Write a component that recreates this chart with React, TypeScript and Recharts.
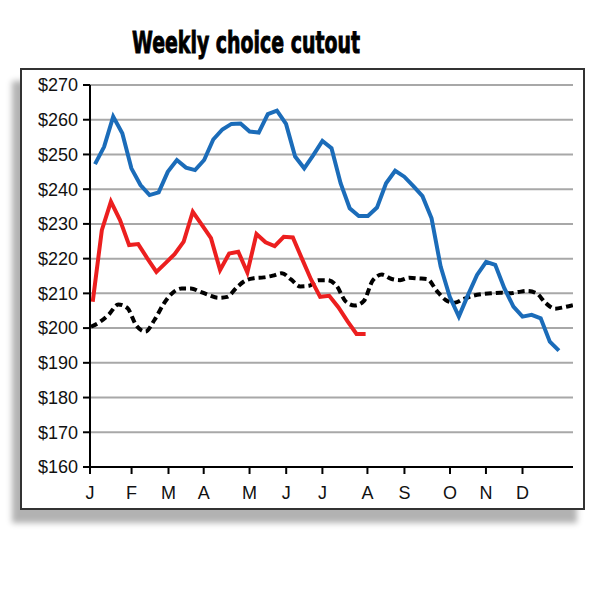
import { CartesianGrid, Line, LineChart, XAxis, YAxis } from "recharts";

const months = ["J", "F", "M", "A", "M", "J", "J", "A", "S", "O", "N", "D"];
const monthWeeks = [0, 4.57, 8.63, 12.5, 17.54, 21.57, 25.55, 30.5, 34.57, 39.58, 43.53, 47.55];
const priceTicks = [160, 170, 180, 190, 200, 210, 220, 230, 240, 250, 260, 270];

// weekly values, first week offset in weeks from Jan 1
const blueStart = 0.55;
const blueYear = [
  247.2, 252.2, 260.9, 256.1, 246.0, 241.2, 238.3, 239.1, 245.0, 248.4, 246.2, 245.5, 248.4,
  254.3, 257.2, 258.8, 258.9, 256.6, 256.3, 261.6, 262.6, 258.8, 249.4, 246.0, 249.8, 253.9,
  251.8, 241.7, 234.5, 232.3, 232.3, 234.7, 241.7, 245.3, 243.6, 240.9, 238.0, 231.6, 217.7,
  209.0, 203.3, 209.5, 215.3, 219.1, 218.2, 211.5, 206.2, 203.3, 203.8, 202.8, 196.1, 193.5,
];

const redStart = 0.3;
const redYear = [
  207.6, 228.2, 236.4, 231.1, 223.9, 224.2, 220.1, 216.2, 218.7, 221.3, 224.9, 233.5, 229.7,
  225.9, 216.7, 221.5, 222.0, 216.0, 227.1, 224.7, 223.6, 226.3, 226.1, 220.0, 214.0, 209.0,
  209.3, 206.0, 202.0, 198.3, 198.3,
];

const avgStart = 0.1;
const fiveYearAvg = [
  200.4, 201.8, 204.0, 206.8, 205.8, 200.7, 199.0, 202.4, 207.0, 210.2, 211.4, 211.4, 210.5,
  209.5, 208.7, 209.0, 211.6, 213.7, 214.4, 214.6, 215.1, 215.8, 214.0, 212.0, 212.2, 213.8,
  213.8, 212.2, 207.7, 206.5, 207.8, 213.8, 215.4, 214.2, 213.8, 214.5, 214.3, 214.1, 210.8,
  208.1, 207.3, 208.4, 209.3, 209.8, 210.0, 210.2, 210.0, 210.4, 210.7, 210.0, 207.2, 205.6,
  206.0, 206.6,
];

const toPoints = (values: number[], start: number) =>
  values.map((price, i) => ({ week: start + i, price }));

const axisFont = { fontFamily: "'Liberation Sans', Arial, sans-serif", fontSize: 18, fill: "#111" };

export default function App() {
  return (
    <div style={{ position: "absolute", left: 0, top: 0, width: 610, height: 602, background: "#fff" }}>
      <svg width={610} height={70} style={{ position: "absolute", left: 0, top: 0 }}>
        <text
          x={132}
          y={53}
          textLength={228}
          lengthAdjust="spacingAndGlyphs"
          fontFamily="'DejaVu Sans Condensed', 'Liberation Sans Narrow', 'DejaVu Sans', sans-serif"
          fontWeight="bold"
          fontSize={30}
          fill="#000"
          stroke="#000"
          strokeWidth={0.9}
        >
          Weekly choice cutout
        </text>
      </svg>
      <div
        style={{
          position: "absolute",
          left: 20,
          top: 68,
          width: 561,
          height: 438,
          border: "2px solid #333",
          background: "#fff",
          boxShadow: "-8px 13px 6px rgba(0,0,0,0.3)",
        }}
      />
      <div style={{ position: "absolute", left: 0, top: 0 }}>
        <LineChart width={610} height={602} margin={{ top: 85, right: 37, bottom: 95, left: 0 }}>
          <CartesianGrid horizontal vertical={false} stroke="#a8a8a8" strokeWidth={2} />
          <XAxis
            type="number"
            dataKey="week"
            domain={[0, 53.1]}
            ticks={monthWeeks}
            tickFormatter={(_v: number, i: number) => months[i]}
            interval={0}
            height={40}
            tickSize={7}
            tickMargin={12}
            tick={axisFont}
            axisLine={{ stroke: "#000", strokeWidth: 2 }}
            tickLine={{ stroke: "#000", strokeWidth: 2 }}
            allowDataOverflow
          />
          <YAxis
            type="number"
            domain={[160, 270]}
            ticks={priceTicks}
            tickFormatter={(v: number) => `$${v}`}
            interval={0}
            width={90}
            tickSize={7}
            tickMargin={5}
            tick={axisFont}
            axisLine={{ stroke: "#000", strokeWidth: 2 }}
            tickLine={{ stroke: "#000", strokeWidth: 2 }}
          />
          <Line
            data={toPoints(fiveYearAvg, avgStart)}
            dataKey="price"
            type="monotone"
            stroke="#000"
            strokeWidth={4}
            strokeDasharray="7 4"
            dot={false}
            isAnimationActive={false}
          />
          <Line
            data={toPoints(blueYear, blueStart)}
            dataKey="price"
            type="linear"
            stroke="#1b6cb9"
            strokeWidth={4}
            dot={false}
            isAnimationActive={false}
          />
          <Line
            data={toPoints(redYear, redStart)}
            dataKey="price"
            type="linear"
            stroke="#ec1f1f"
            strokeWidth={4}
            dot={false}
            isAnimationActive={false}
          />
        </LineChart>
      </div>
    </div>
  );
}
